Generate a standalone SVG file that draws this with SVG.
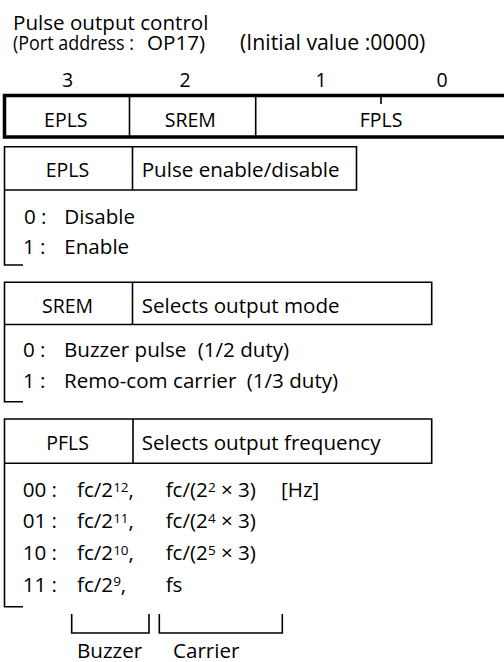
<svg xmlns="http://www.w3.org/2000/svg" width="504" height="662" viewBox="0 0 504 662">
<style>
text{font-family:"Open Sans","DejaVu Sans",sans-serif;font-size:20.6px;fill:#000}
.c{text-anchor:middle}
.u{font-size:19.5px}
.sup{font-size:13.5px}
.box{fill:none;stroke:#000;stroke-width:1.6}
.thin{stroke:#000;stroke-width:1.6;fill:none}
.thick{stroke:#000;stroke-width:3.5;fill:none}
</style>
<rect width="504" height="662" fill="#fff"/>
<g id="title">
<text x="13" y="29.5">Pulse output control</text>
<text y="49.5"><tspan x="13" textLength="121" lengthAdjust="spacingAndGlyphs">(Port address :</tspan><tspan x="147">OP17)</tspan><tspan x="240" style="font-size:21.3px">(Initial value :0000)</tspan></text>
</g>
<g id="register">
<text class="c u" x="67.5" y="87">3</text>
<text class="c u" x="185" y="87">2</text>
<text class="c u" x="321" y="87">1</text>
<text class="c u" x="442" y="87">0</text>
<path class="thick" d="M510 95.5 H4.5 V137 H510"/>
<path class="thin" d="M129.5 95.5 V137 M255.7 95.5 V137 M381 96 V104"/>
<text class="c u" x="65.8" y="126.7">EPLS</text>
<text class="c u" x="190.3" y="126.7">SREM</text>
<text class="c u" x="381" y="126.7">FPLS</text>
</g>
<g id="epls">
<path class="box" d="M4.5 146.7 H356.5 V190 H4.5 Z M132.5 146.7 V190 M4.5 190 V265 H23"/>
<text class="c u" x="67.5" y="176.7">EPLS</text>
<text x="141.7" y="176.7">Pulse enable/disable</text>
<text x="24" y="224">0 :</text><text x="64.3" y="224">Disable</text>
<text x="23" y="254.3">1 :</text><text x="64.3" y="254.3">Enable</text>
</g>
<g id="srem">
<path class="box" d="M4.5 282.3 H431.7 V324.5 H4.5 Z M132.5 282.3 V324.5 M4.5 324.5 V401.7 H23"/>
<text class="c u" x="67.5" y="313.3">SREM</text>
<text x="141.7" y="313.3">Selects output mode</text>
<text x="23" y="357.3">0 :</text><text x="64" y="357.3">Buzzer pulse</text><text x="197.7" y="357.3">(1/2 duty)</text>
<text x="23" y="388.3">1 :</text><text x="64" y="388.3">Remo-com carrier</text><text x="246.7" y="388.3">(1/3 duty)</text>
</g>
<g id="pfls">
<path class="box" d="M4.5 419 H431.7 V463.3 H4.5 Z M133 419 V463.3 M4.5 463.3 V606.7 H23"/>
<text class="c u" x="67.5" y="450">PFLS</text>
<text x="141.7" y="450">Selects output frequency</text>
<text x="22.7" y="497">00 :</text>
<text x="77" y="497">fc/2<tspan class="sup" dy="-5.5">12</tspan><tspan dy="5.5">,</tspan></text>
<text x="165.7" y="497">fc/(2<tspan class="sup" dy="-5.5">2</tspan><tspan dy="5.5"> × 3)</tspan></text>
<text x="281" y="497">[Hz]</text>
<text x="22.7" y="528">01 :</text>
<text x="77" y="528">fc/2<tspan class="sup" dy="-5.5">11</tspan><tspan dy="5.5">,</tspan></text>
<text x="165.7" y="528">fc/(2<tspan class="sup" dy="-5.5">4</tspan><tspan dy="5.5"> × 3)</tspan></text>
<text x="22.7" y="560">10 :</text>
<text x="77" y="560">fc/2<tspan class="sup" dy="-5.5">10</tspan><tspan dy="5.5">,</tspan></text>
<text x="165.7" y="560">fc/(2<tspan class="sup" dy="-5.5">5</tspan><tspan dy="5.5"> × 3)</tspan></text>
<text x="22.7" y="591.5">11 :</text>
<text x="77" y="591.5">fc/2<tspan class="sup" dy="-5.5">9</tspan><tspan dy="5.5">,</tspan></text>
<text x="165.7" y="591.5">fs</text>
</g>
<g id="brackets">
<path class="box" d="M71.7 614 V633 H149 V614 M159.3 614 V633 H282.3 V614"/>
<text x="77" y="657.5">Buzzer</text>
<text x="173" y="657.5">Carrier</text>
</g>
</svg>
